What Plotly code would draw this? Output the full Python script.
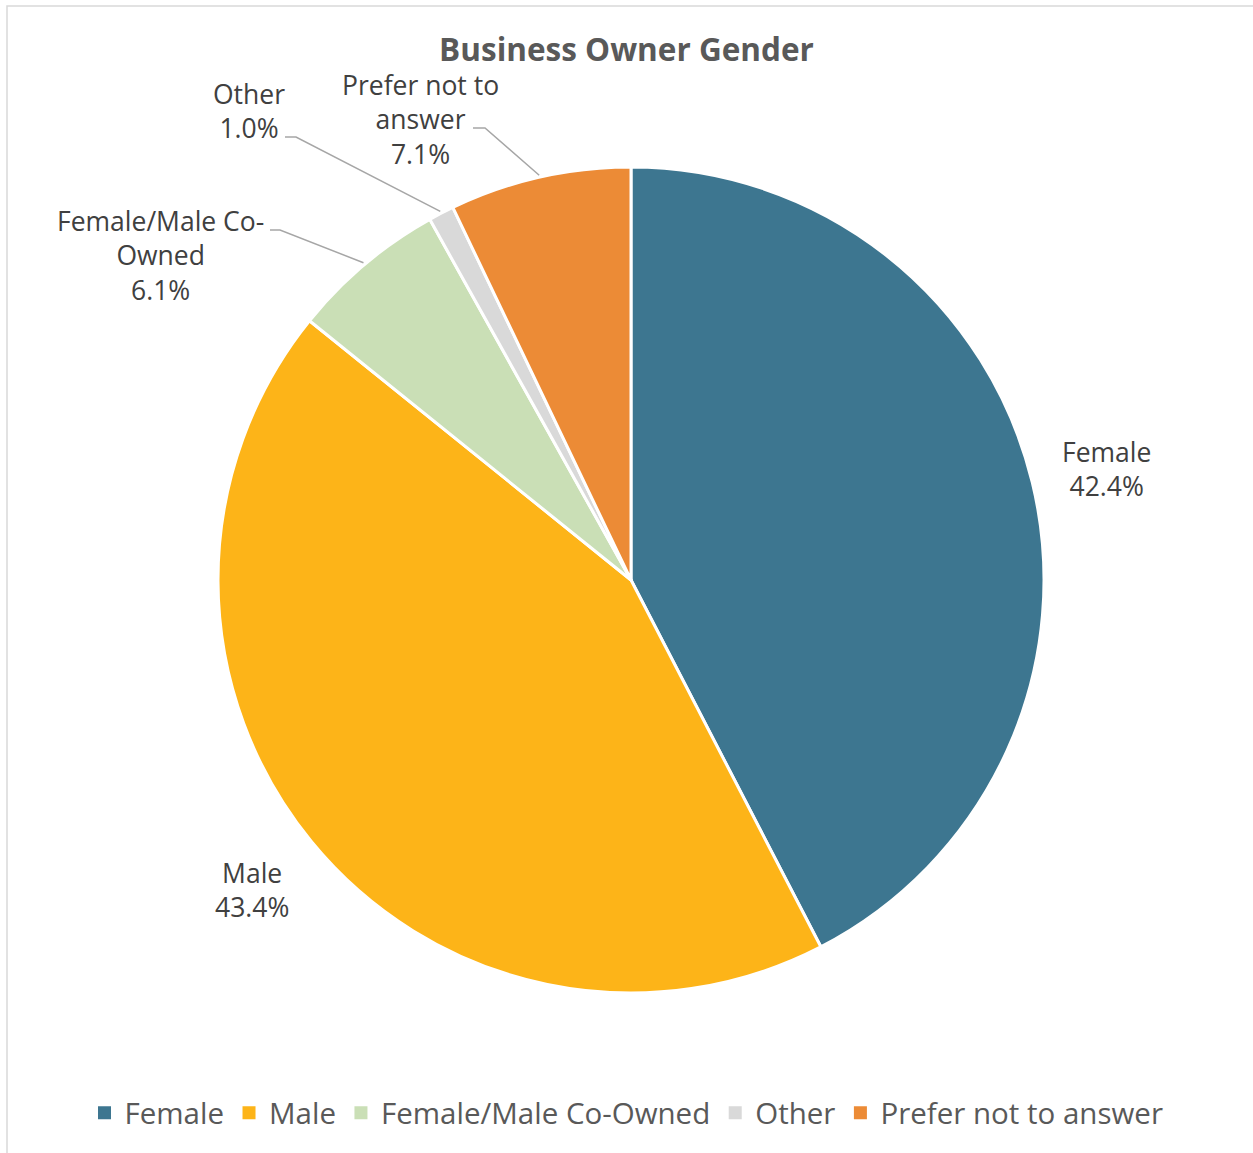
import math
import plotly.graph_objects as go

# ---- data ----
categories = ["Female", "Male", "Female/Male Co-Owned", "Other", "Prefer not to answer"]
values = [42.4, 43.4, 6.1, 1.0, 7.1]
label_texts = ["Female", "Male", "Female/Male Co-<br>Owned", "Other", "Prefer not to<br>answer"]
colors = ["#3D7690", "#FDB418", "#CADFB6", "#D9D9D9", "#EC8B36"]

# ---- layout constants (pixels) ----
W, H = 1253, 1153
CX, CY, R = 631, 580, 413


def px(x):
    return x / W


def py(y):
    return 1 - y / H


fig = go.Figure()
fig.add_trace(go.Pie(
    labels=categories,
    values=values,
    marker=dict(colors=colors, line=dict(color="white", width=3)),
    sort=False,
    direction="clockwise",
    rotation=0,
    textinfo="none",
    hoverinfo="label+percent",
    showlegend=False,
    domain=dict(x=[px(CX - R), px(CX + R)], y=[py(CY + R), py(CY - R)]),
))

# legend entries with square swatches
for name, col in zip(categories, colors):
    fig.add_trace(go.Scatter(
        x=[None], y=[None], mode="markers", name=name,
        marker=dict(symbol="square", size=13, color=col),
        showlegend=True, hoverinfo="skip",
    ))

# mid-angles from data
total = sum(values)
mids = []
cum = 0
for v in values:
    mids.append((cum + v / 2) / total * 2 * math.pi)
    cum += v


def edge(i, r):
    a = mids[i]
    return CX + r * math.sin(a), CY - r * math.cos(a)


label_style = {
    0: dict(mode="radial", r=1.185, dy=5),
    1: dict(mode="radial", r=1.185, dy=0),
    2: dict(mode="fixed", pos=(160, 256), elbow=[(270, 230), (280, 230)]),
    3: dict(mode="fixed", pos=(249, 111), elbow=[(285, 137), (296, 137)]),
    4: dict(mode="fixed", pos=(420, 120), elbow=[(473, 128), (485, 128)]),
}

annotations = []
shapes = []
for i, v in enumerate(values):
    st = label_style[i]
    txt = f"{label_texts[i]}<br>{v:.1f}%"
    if st["mode"] == "radial":
        lx, ly = edge(i, R * st["r"])
        ly += st["dy"]
    else:
        lx, ly = st["pos"]
        ex, ey = edge(i, R + 2)
        (x0, y0), (x1, y1) = st["elbow"]
        path = f"M {px(x0)} {py(y0)} L {px(x1)} {py(y1)} L {px(ex)} {py(ey)}"
        shapes.append(dict(type="path", xref="paper", yref="paper", path=path,
                           line=dict(color="#A6A6A6", width=1.5)))
    annotations.append(dict(
        x=px(lx), y=py(ly), xref="paper", yref="paper", text=txt,
        showarrow=False, xanchor="center", yanchor="middle", align="center",
        font=dict(family="Open Sans", size=26.5, color="#404040"),
    ))

# outer border (right and bottom edges fall outside the canvas)
shapes.append(dict(type="rect", xref="paper", yref="paper",
                   x0=px(7), x1=px(1270), y0=py(1170), y1=py(6),
                   line=dict(color="#D9D9D9", width=1.5)))

fig.update_layout(
    width=W, height=H,
    margin=dict(l=0, r=0, t=0, b=0),
    paper_bgcolor="white",
    plot_bgcolor="white",
    xaxis=dict(visible=False),
    yaxis=dict(visible=False),
    title=dict(text="<b>Business Owner Gender</b>", x=0.5, xanchor="center",
               y=py(50), yanchor="middle",
               font=dict(family="Open Sans", size=31.5, color="#595959")),
    legend=dict(orientation="h", x=0.5, xanchor="center", y=py(1113), yanchor="middle",
                font=dict(family="Open Sans", size=29.5, color="#595959"),
                itemwidth=30, itemclick=False, itemdoubleclick=False),
    annotations=annotations,
    shapes=shapes,
)

fig.write_html("out.html", config={"displayModeBar": False},
               post_script="document.body.style.margin='0';")
